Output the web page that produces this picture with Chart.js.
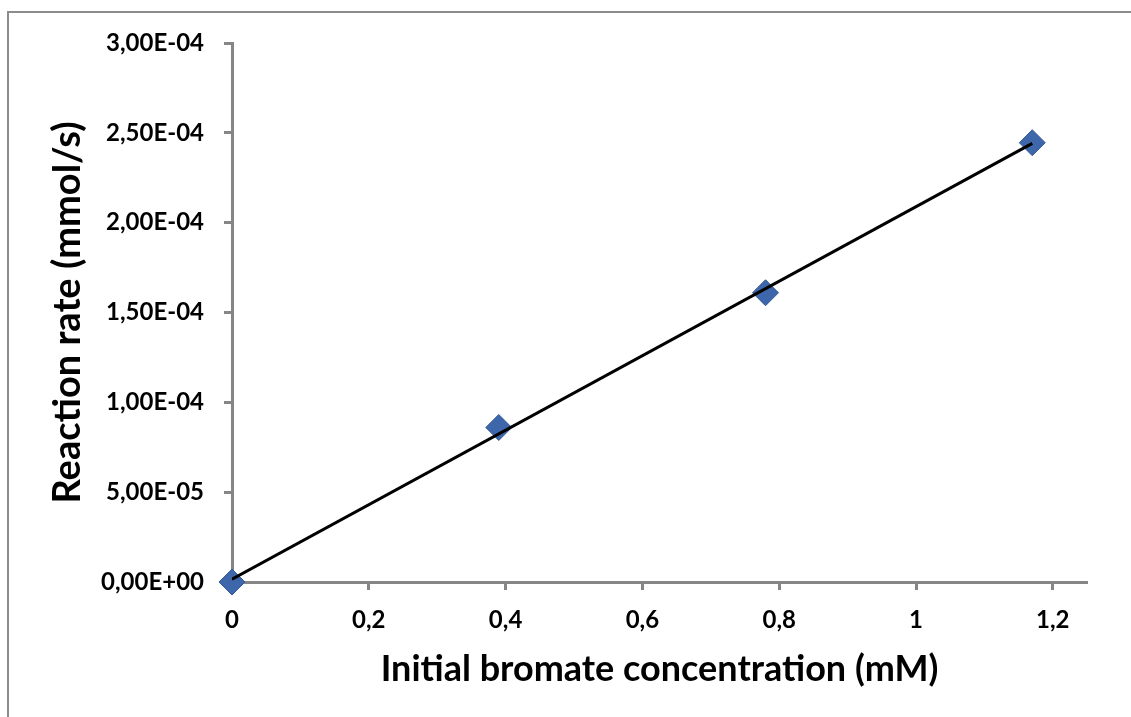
<!DOCTYPE html>
<html>
<head>
<meta charset="utf-8">
<script src="https://cdn.jsdelivr.net/npm/chart.js@4"></script>
<style>
    html, body { margin: 0; padding: 0; background: #ffffff; }
    #wrap { position: relative; width: 1131px; height: 717px; }
</style>
</head>
<body>
<div id="wrap"><canvas id="rateChart" width="1131" height="717"></canvas></div>
<script>
// Bromate data
const concentration = [0, 0.39, 0.78, 1.17];
const reactionRate = [0, 8.6e-5, 1.61e-4, 2.445e-4];

const xTicks = [0, 0.2, 0.4, 0.6, 0.8, 1, 1.2];
const yTicks = [0, 5e-5, 1e-4, 1.5e-4, 2e-4, 2.5e-4, 3e-4];

const xTitle = 'Initial bromate concentration (mM)';
const yTitle = 'Reaction rate (mmol/s)';

const axisGray = '#868686';
const fontFamily = 'Lato, "Open Sans", sans-serif';

// least squares line, like the Excel linear trendline
function linearFit(xs, ys) {
    const n = xs.length;
    const mx = xs.reduce((a, b) => a + b, 0) / n;
    const my = ys.reduce((a, b) => a + b, 0) / n;
    let sxy = 0, sxx = 0;
    for (let i = 0; i < n; i++) {
        sxy += (xs[i] - mx) * (ys[i] - my);
        sxx += (xs[i] - mx) * (xs[i] - mx);
    }
    const slope = sxy / sxx;
    return { slope: slope, intercept: my - slope * mx };
}

function formatSci(v) {
    const parts = Number(v).toExponential(2).split('e');
    const exp = parseInt(parts[1], 10);
    const sign = exp < 0 ? '-' : '+';
    const expStr = String(Math.abs(exp)).padStart(2, '0');
    return parts[0].replace('.', ',') + 'E' + sign + expStr;
}

function formatDec(v) {
    return String(parseFloat(Number(v).toFixed(2))).replace('.', ',');
}

const fit = linearFit(concentration, reactionRate);
const xMin = Math.min(...concentration);
const xMax = Math.max(...concentration);
const trendPoints = [
    { x: xMin, y: fit.intercept + fit.slope * xMin },
    { x: xMax, y: fit.intercept + fit.slope * xMax }
];

const framePlugin = {
    id: 'frame',
    beforeDraw(chart) {
        const ctx = chart.ctx;
        ctx.save();
        ctx.strokeStyle = '#8c8c8c';
        ctx.lineWidth = 2;
        ctx.beginPath();
        ctx.moveTo(8, chart.height);
        ctx.lineTo(8, 12);
        ctx.lineTo(chart.width, 12);
        ctx.stroke();
        ctx.restore();
    }
};

const ctx = document.getElementById('rateChart').getContext('2d');
const rateChart = new Chart(ctx, {
    type: 'scatter',
    data: {
        datasets: [{
            type: 'line',
            label: 'Trend',
            data: trendPoints,
            borderColor: '#000000',
            borderWidth: 3,
            pointRadius: 0,
            fill: false,
            order: 0
        }, {
            label: 'Rate',
            data: concentration.map((c, i) => ({ x: c, y: reactionRate[i] })),
            pointStyle: 'rectRot',
            pointRadius: 13,
            pointHoverRadius: 13,
            backgroundColor: '#3E66AA',
            borderColor: '#375B99',
            borderWidth: 1,
            clip: false,
            order: 1
        }]
    },
    options: {
        responsive: false,
        animation: false,
        events: [],
        layout: {
            padding: { top: 43, right: 44, left: 0, bottom: 0 }
        },
        plugins: {
            legend: { display: false },
            tooltip: { enabled: false }
        },
        scales: {
            x: {
                type: 'linear',
                min: 0,
                max: 1.25,
                afterBuildTicks: scale => {
                    scale.ticks = xTicks.map(v => ({ value: v }));
                },
                afterFit: scale => {
                    scale.height = 135;
                },
                grid: {
                    drawOnChartArea: false,
                    drawTicks: true,
                    tickLength: 8,
                    tickColor: axisGray,
                    tickWidth: 3
                },
                border: { color: axisGray, width: 3 },
                ticks: {
                    color: '#000000',
                    padding: 16,
                    maxRotation: 0,
                    font: { family: fontFamily, size: 24, weight: 'bold' },
                    callback: v => formatDec(v)
                },
                title: {
                    display: true,
                    text: xTitle,
                    color: '#000000',
                    font: { family: fontFamily, size: 36, weight: 'bold' },
                    padding: { top: 0, bottom: 26 }
                }
            },
            y: {
                type: 'linear',
                min: 0,
                max: 3e-4,
                afterBuildTicks: scale => {
                    scale.ticks = yTicks.map(v => ({ value: v }));
                },
                afterFit: scale => {
                    scale.width = 232;
                },
                grid: {
                    drawOnChartArea: false,
                    drawTicks: true,
                    tickLength: 8,
                    tickColor: axisGray,
                    tickWidth: 3
                },
                border: { color: axisGray, width: 3 },
                ticks: {
                    color: '#000000',
                    padding: 20,
                    font: { family: fontFamily, size: 24, weight: 'bold' },
                    callback: v => formatSci(v)
                },
                title: {
                    display: true,
                    text: yTitle,
                    color: '#000000',
                    font: { family: fontFamily, size: 38, weight: 'bold' },
                    padding: { top: 45, bottom: 0 }
                }
            }
        }
    },
    plugins: [framePlugin]
});
</script>
</body>
</html>
